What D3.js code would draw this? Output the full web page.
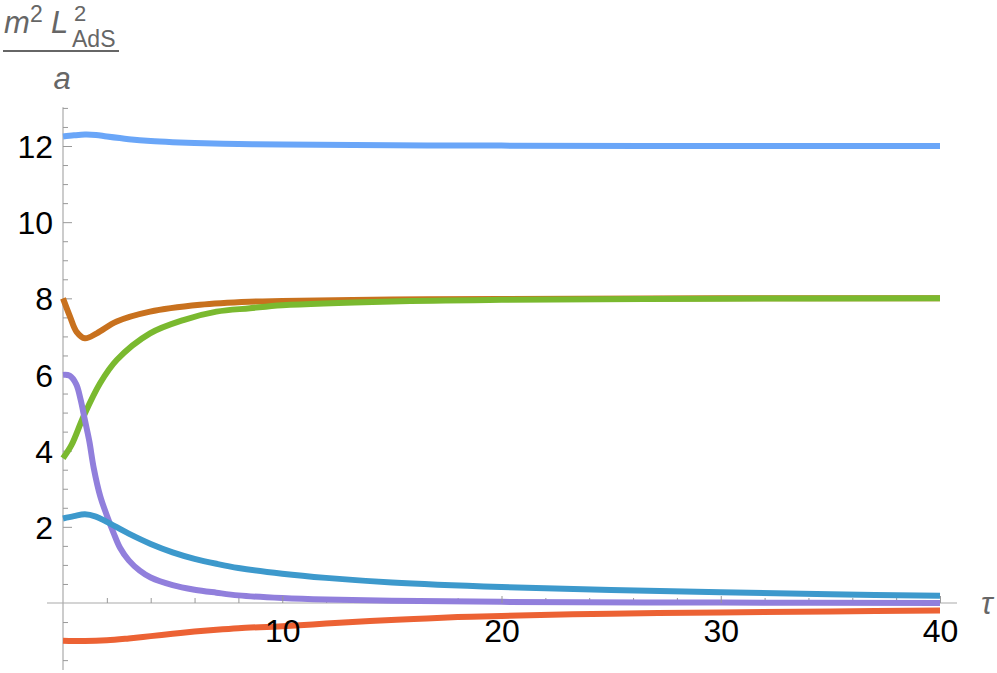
<!DOCTYPE html>
<html>
<head>
<meta charset="utf-8">
<script src="https://cdn.jsdelivr.net/npm/d3@7"></script>
<style>
  body { margin: 0; background: #fff; }
  svg { display: block; }
  .tick text { font-family: "Liberation Sans", Arial, sans-serif; font-size: 32px; fill: #000; }
  .tick line { stroke: #999; }
  .lbl { font-family: "Liberation Sans", Arial, sans-serif; fill: #666; }
</style>
</head>
<body>
<svg width="997" height="673"></svg>
<script>
// values: tau positions and a * m^2 L^2 values
var lightBlueTau = [0, 0.5, 1, 1.5, 2, 3, 4, 5, 6, 8, 10, 15, 20, 30, 40];
var lightBlueVal = [12.25, 12.28, 12.3, 12.29, 12.25, 12.18, 12.13, 12.1, 12.08, 12.05, 12.04, 12.02, 12.01, 12.0, 12.0];

var orangeTau = [0, 0.32, 0.62, 1.0, 1.54, 2.45, 3.97, 6.25, 8.5, 10, 15, 20, 30, 40];
var orangeVal = [8.0, 7.52, 7.12, 6.95, 7.08, 7.39, 7.65, 7.83, 7.91, 7.93, 7.97, 7.98, 8.0, 8.0];

var greenTau = [0, 0.39, 0.93, 1.69, 2.45, 3.97, 5.49, 7.0, 8.53, 10, 15, 20, 30, 40];
var greenVal = [3.8, 4.15, 4.89, 5.77, 6.38, 7.08, 7.43, 7.65, 7.74, 7.82, 7.92, 7.96, 7.99, 8.0];

var purpleTau = [0, 0.3, 0.6, 0.8, 1.0, 1.2, 1.4, 1.7, 2.0, 2.3, 2.6, 3.0, 3.5, 4, 5, 6, 7, 8, 10, 12, 15, 20, 30, 40];
var purpleVal = [5.99, 5.97, 5.75, 5.35, 4.8, 4.25, 3.55, 2.8, 2.3, 1.85, 1.45, 1.12, 0.85, 0.67, 0.47, 0.35, 0.27, 0.2, 0.13, 0.09, 0.06, 0.03, 0.01, 0.0];

var blueTau = [0, 0.5, 1, 1.5, 2, 3, 4, 5, 6, 7, 8, 10, 12, 15, 20, 25, 30, 35, 40];
var blueVal = [2.22, 2.28, 2.33, 2.27, 2.13, 1.82, 1.55, 1.33, 1.16, 1.03, 0.92, 0.77, 0.66, 0.54, 0.42, 0.34, 0.28, 0.23, 0.19];

var redTau = [0, 1, 2, 3, 4, 5, 6, 7, 8, 10, 12, 14, 16, 18, 20, 25, 30, 35, 40];
var redVal = [-0.99, -1.0, -0.98, -0.93, -0.87, -0.81, -0.75, -0.7, -0.66, -0.61, -0.54, -0.47, -0.42, -0.37, -0.34, -0.28, -0.25, -0.22, -0.2];

var seriesNames = ['lightBlue', 'orange', 'green', 'purple', 'blue', 'red'];
var seriesColors = ['#6aa6f8', '#c8711e', '#7ab92f', '#917fdc', '#3d99cc', '#ec6234'];

var xMajor = [10, 20, 30, 40];
var xMinor = [2, 4, 6, 8, 12, 14, 16, 18, 22, 24, 26, 28, 32, 34, 36, 38];
var yMajor = [2, 4, 6, 8, 10, 12];
var yMinor = [-1.5, -1, -0.5, 0.5, 1, 1.5, 2.5, 3, 3.5, 4.5, 5, 5.5, 6.5, 7, 7.5, 8.5, 9, 9.5, 10.5, 11, 11.5, 12.5, 13];

var svg = d3.select('svg');

var x = d3.scaleLinear().domain([0, 40]).range([63, 940]);
var y = d3.scaleLinear().domain([0, 12]).range([603, 146]);

// axis lines
svg.append('line')
  .attr('x1', 47).attr('x2', 957)
  .attr('y1', y(0)).attr('y2', y(0))
  .attr('stroke', '#aaa').attr('stroke-width', 1.2);
svg.append('line')
  .attr('x1', x(0)).attr('x2', x(0))
  .attr('y1', y(13.02)).attr('y2', y(-1.76))
  .attr('stroke', '#aaa').attr('stroke-width', 1.2);

// y ticks
var yMinorAxis = svg.append('g')
  .attr('transform', 'translate(' + x(0) + ',0)')
  .call(d3.axisLeft(y).tickValues(yMinor).tickSizeInner(-5).tickSizeOuter(0).tickFormat(''));
var yMajorAxis = svg.append('g')
  .attr('transform', 'translate(' + x(0) + ',0)')
  .call(d3.axisLeft(y).tickValues(yMajor).tickSizeInner(-9).tickSizeOuter(0).tickPadding(10));

// x ticks
var xMinorAxis = svg.append('g')
  .attr('transform', 'translate(0,' + y(0) + ')')
  .call(d3.axisBottom(x).tickValues(xMinor).tickSizeInner(-5).tickSizeOuter(0).tickFormat(''));
var xMajorAxis = svg.append('g')
  .attr('transform', 'translate(0,' + y(0) + ')')
  .call(d3.axisBottom(x).tickValues(xMajor).tickSizeInner(-7).tickSizeOuter(0).tickPadding(16));

svg.selectAll('.domain').remove();
svg.selectAll('.tick line').attr('stroke', '#999').attr('stroke-width', 1);
yMajorAxis.selectAll('text').attr('dy', '0.36em');

// curves
var seriesData = [
  d3.zip(lightBlueTau, lightBlueVal),
  d3.zip(orangeTau, orangeVal),
  d3.zip(greenTau, greenVal),
  d3.zip(purpleTau, purpleVal),
  d3.zip(blueTau, blueVal),
  d3.zip(redTau, redVal)
];

var line = d3.line()
  .x(function(d) { return x(d[0]); })
  .y(function(d) { return y(d[1]); })
  .curve(d3.curveCatmullRom.alpha(0.5));

svg.append('g').selectAll('path')
  .data(seriesData)
  .enter().append('path')
  .attr('class', function(d, i) { return seriesNames[i]; })
  .attr('d', line)
  .attr('fill', 'none')
  .attr('stroke', function(d, i) { return seriesColors[i]; })
  .attr('stroke-width', 6);

// x tick labels drawn on top of curves like the original
xMajorAxis.raise();

// axis labels
var lab = svg.append('g').attr('class', 'lbl');
lab.append('text').attr('x', 4).attr('y', 33).style('font-size', '31px').style('font-style', 'italic').text('m');
lab.append('text').attr('x', 30).attr('y', 22).style('font-size', '23px').text('2');
lab.append('text').attr('x', 51).attr('y', 33).style('font-size', '31px').style('font-style', 'italic').text('L');
lab.append('text').attr('x', 74).attr('y', 21).style('font-size', '22px').text('2');
lab.append('text').attr('x', 72).attr('y', 47).style('font-size', '23px').text('AdS');
svg.append('line')
  .attr('x1', 3).attr('x2', 119).attr('y1', 51).attr('y2', 51)
  .attr('stroke', '#666').attr('stroke-width', 2);
lab.append('text').attr('x', 62).attr('y', 89).attr('text-anchor', 'middle')
  .style('font-size', '31px').style('font-style', 'italic').text('a');
lab.append('text').attr('x', 981).attr('y', 614)
  .style('font-size', '31px').style('font-style', 'italic').text('τ');
</script>
</body>
</html>
